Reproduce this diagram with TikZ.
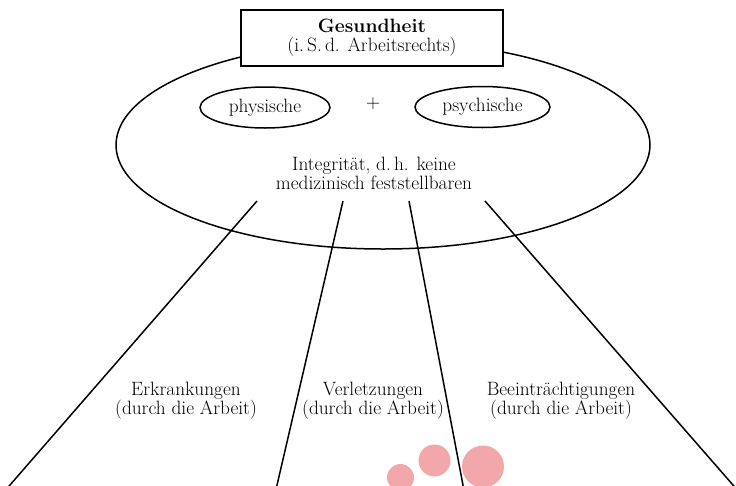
\documentclass[tikz,border=0pt]{standalone}
\usepackage{tikz}
\usetikzlibrary{shapes.geometric}
\definecolor{blobpink}{RGB}{242,167,171}

\begin{document}
\begin{tikzpicture}[x=1pt,y=-1pt,line width=1.5pt,
    font=\fontsize{19.3}{19}\selectfont,
    lbl/.style={align=center,inner sep=0pt},
    oval/.style={ellipse,draw,inner sep=0pt,minimum height=41pt}]
  \useasboundingbox (0,0) rectangle (736,485);
  \clip (0,0) rectangle (736,485);
  % pink dots at the bottom
  \fill[blobpink] (400.5,477.5) circle[radius=13.5pt];
  \fill[blobpink] (434.5,460.5) circle[radius=16pt];
  \fill[blobpink] (483,466.5) circle[radius=21pt];
  % outer ellipse: integrity
  \draw (383,145) ellipse[x radius=267,y radius=104];
  \node[draw,fill=white,line width=1.7pt,minimum width=262pt,minimum height=56pt,
        lbl] (health) at (372,38) {\textbf{Gesundheit}\\(i.\,S.\,d. Arbeitsrechts)};
  \node[oval,minimum width=130pt] (phys) at (265,107.5) {physische};
  \node[lbl] (plus) at (373,104) {+};
  \node[oval,minimum width=135pt] (psych) at (482.5,107) {psychische};
  \node[lbl] (integ) at (374,173) {Integrität, d.\,h. keine\\medizinisch feststellbaren};
  % fan of lines down from the ellipse
  \coordinate (t1) at (257,201); \coordinate (b1) at (3.9,492);
  \coordinate (t2) at (343,201); \coordinate (b2) at (275.4,492);
  \coordinate (t3) at (409,201); \coordinate (b3) at (464.3,492);
  \coordinate (t4) at (485,201); \coordinate (b4) at (739.1,492);
  \draw (t1) -- (b1);
  \draw (t2) -- (b2);
  \draw (t3) -- (b3);
  \draw (t4) -- (b4);
  % the three kinds
  \node[lbl] (disease) at (186,401) {Erkrankungen\\(durch die Arbeit)};
  \node[lbl] (injury) at (373,401) {Verletzungen\\(durch die Arbeit)};
  \node[lbl] (impair) at (561,401) {Beeinträchtigungen\\(durch die Arbeit)};
\end{tikzpicture}
\end{document}
